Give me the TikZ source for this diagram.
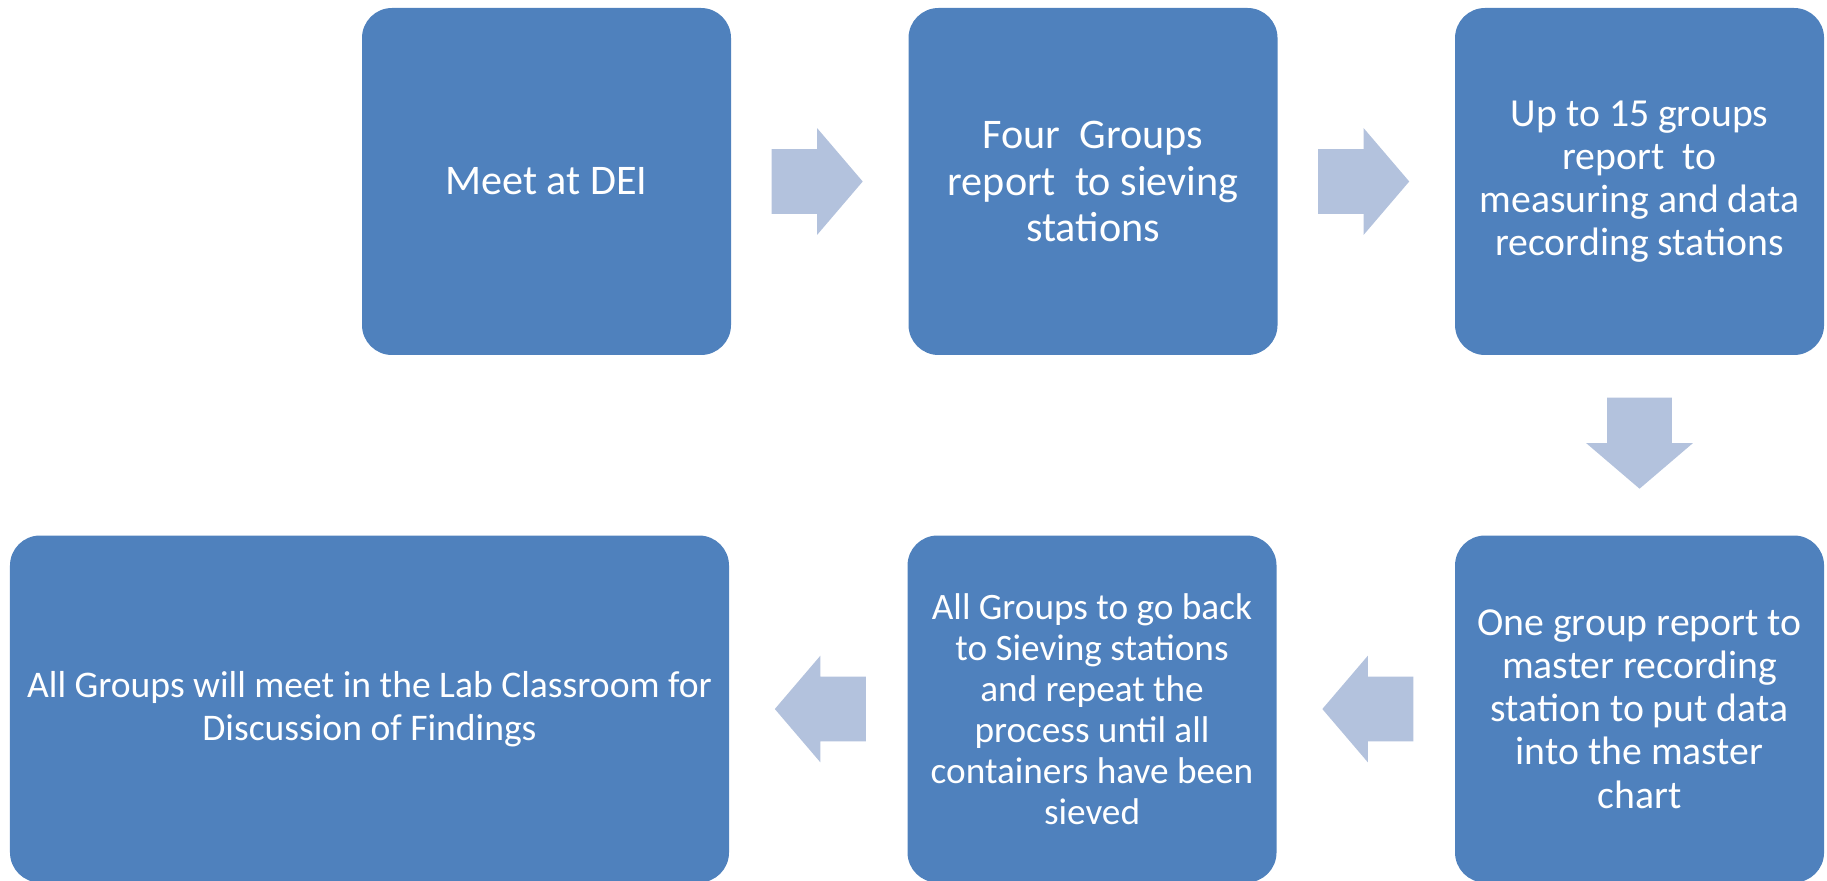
\documentclass[tikz,border=0pt]{standalone}
\usepackage{fontspec}
\setmainfont{Carlito}
\usetikzlibrary{shapes,arrows,positioning}
\definecolor{boxblue}{RGB}{79,129,189}
\definecolor{arrowblue}{RGB}{179,194,221}
\tikzstyle{block} = [rectangle, fill=boxblue, text=white, align=center,
    rounded corners=0.6cm, minimum width=7.38cm, minimum height=6.94cm,
    inner sep=0pt, font=\fontsize{24}{26.2}\selectfont]
\tikzstyle{flow} = [single arrow, fill=arrowblue, minimum height=1.82cm,
    minimum width=2.12cm, single arrow head extend=0.42cm,
    single arrow tip angle=99, inner xsep=0pt, inner ysep=0.64cm]

\begin{document}
\begin{tikzpicture}

    \useasboundingbox (0,0) rectangle (36.54,-17.62);

    % Place nodes
    \node [block] (L1) at (10.93,-3.63) {Meet at DEI};
    \node [flow, right=0.8cm of L1, anchor=tail] (A1) {};
    \node [block, right=0.9cm of A1.tip] (L2) {Four\ \ Groups\\report\ \ to sieving\\stations};
    \node [flow, right=0.8cm of L2, anchor=tail] (A2) {};
    \node [block, font=\fontsize{22.6}{24.6}\selectfont, right=0.9cm of A2.tip] (L3) {Up to 15 groups\\report\ \ to\\measuring and data\\recording stations};
    \node [flow, shape border rotate=270, inner xsep=0.64cm, inner ysep=0pt, below=0.84cm of L3, anchor=tail] (A3) {};
    \node [block, font=\fontsize{22.6}{24.6}\selectfont, below=0.92cm of A3.tip] (L4) {One group report to\\master recording\\station to put data\\into the master\\chart};
    \node [flow, shape border rotate=180, left=0.82cm of L4, anchor=tail] (A4) {};
    \node [block, font=\fontsize{21.2}{23.3}\selectfont, left=0.9cm of A4.tip] (L5) {All Groups to go back\\to Sieving stations\\and repeat the\\process until all\\containers have been\\sieved};
    \node [flow, shape border rotate=180, left=0.82cm of L5, anchor=tail] (A5) {};
    \node [block, minimum width=14.38cm, font=\fontsize{21.4}{24.6}\selectfont, left=0.9cm of A5.tip] (L6) {All Groups will meet in the Lab Classroom for\\Discussion of Findings};

\end{tikzpicture}
\end{document}
